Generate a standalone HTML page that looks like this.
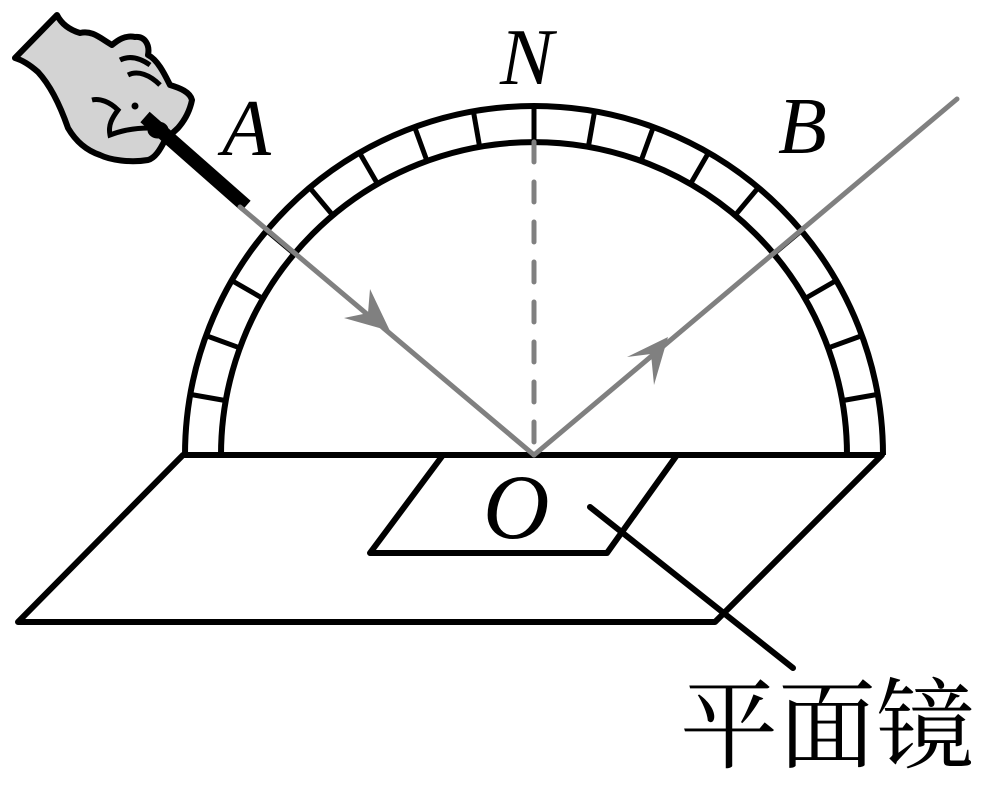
<!DOCTYPE html>
<html><head><meta charset="utf-8"><style>
html,body{margin:0;padding:0;background:#fff;}
svg{display:block;}
.it{font-family:"Liberation Serif","Times New Roman",serif;font-style:italic;}
.cj{font-family:"Liberation Serif","Noto Serif CJK SC","Noto Sans CJK SC",serif;}
</style></head><body>
<svg width="985" height="786" viewBox="0 0 985 786" xmlns="http://www.w3.org/2000/svg">
<!-- hand -->
<path d="M57,15 C62,25 70,30 80,33 C92,30 100,38 112,45 C118,40 125,35 135,37 C145,36 150,45 148,55 C158,60 165,75 170,85 C180,88 190,92 192,100 C190,110 185,120 178,128 L165,140 C160,150 155,158 148,160 C130,163 110,160 100,155 C85,150 75,140 68,128 C60,105 50,85 38,72 C30,65 22,60 15,58 Z" fill="#d3d3d3" stroke="#000" stroke-width="6" stroke-linejoin="round"/>
<path d="M92,100 C100,98 110,102 118,110 C112,118 108,125 110,135 C118,132 130,128 150,128" fill="none" stroke="#000" stroke-width="5"/>
<path d="M120,60 C130,55 140,58 150,65 M128,75 C138,70 150,75 160,85" fill="none" stroke="#000" stroke-width="5"/>
<circle cx="135" cy="106" r="3.5" fill="#000"/>
<ellipse cx="158" cy="130" rx="8" ry="6" fill="#d3d3d3" stroke="#000" stroke-width="5"/>
<!-- pen -->
<line x1="145" y1="117" x2="246" y2="206" stroke="#000" stroke-width="14"/>
<!-- semicircle -->
<path d="M185,455 A349,349 0 0 1 883,455" fill="none" stroke="#000" stroke-width="6"/>
<path d="M221,455 A313,313 0 0 1 847,455" fill="none" stroke="#000" stroke-width="6"/>
<g stroke="#000" stroke-width="5">
<line x1="534" y1="142" x2="534" y2="106" transform="rotate(-80 534 455)"/>
<line x1="534" y1="142" x2="534" y2="106" transform="rotate(-70 534 455)"/>
<line x1="534" y1="142" x2="534" y2="106" transform="rotate(-60 534 455)"/>
<line x1="534" y1="142" x2="534" y2="106" transform="rotate(-50 534 455)"/>
<line x1="534" y1="142" x2="534" y2="106" transform="rotate(-40 534 455)"/>
<line x1="534" y1="142" x2="534" y2="106" transform="rotate(-30 534 455)"/>
<line x1="534" y1="142" x2="534" y2="106" transform="rotate(-20 534 455)"/>
<line x1="534" y1="142" x2="534" y2="106" transform="rotate(-10 534 455)"/>
<line x1="534" y1="142" x2="534" y2="106"/>
<line x1="534" y1="142" x2="534" y2="106" transform="rotate(10 534 455)"/>
<line x1="534" y1="142" x2="534" y2="106" transform="rotate(20 534 455)"/>
<line x1="534" y1="142" x2="534" y2="106" transform="rotate(30 534 455)"/>
<line x1="534" y1="142" x2="534" y2="106" transform="rotate(40 534 455)"/>
<line x1="534" y1="142" x2="534" y2="106" transform="rotate(50 534 455)"/>
<line x1="534" y1="142" x2="534" y2="106" transform="rotate(60 534 455)"/>
<line x1="534" y1="142" x2="534" y2="106" transform="rotate(70 534 455)"/>
<line x1="534" y1="142" x2="534" y2="106" transform="rotate(80 534 455)"/>
</g>
<!-- base -->
<path d="M183,455 L882,455 L715,622 L18,622 Z" fill="none" stroke="#000" stroke-width="6" stroke-linejoin="round"/>
<path d="M443,455 L370,553 L607,553 L677,455" fill="none" stroke="#000" stroke-width="6" stroke-linejoin="round"/>
<line x1="590" y1="507" x2="793" y2="668" stroke="#000" stroke-width="6" stroke-linecap="round"/>
<!-- rays -->
<line x1="534" y1="142" x2="534" y2="452" stroke="#808080" stroke-width="5" stroke-dasharray="20,20" stroke-linecap="round"/>
<line x1="240" y1="207" x2="534" y2="455" stroke="#808080" stroke-width="5" stroke-linecap="round"/>
<line x1="534" y1="455" x2="957" y2="99" stroke="#808080" stroke-width="5" stroke-linecap="round"/>
<path d="M390,331 L344,318 L368,313 L370,289 Z" fill="#808080"/>
<path d="M668,337 L627,357 L651,354 L654,385 Z" fill="#808080"/>
<!-- labels -->
<g class="it" font-size="80" fill="#000">
<text x="500" y="84">N</text>
<text x="222" y="155">A</text>
<text x="778" y="153">B</text>
<text x="483" y="538" font-size="92">O</text>
</g>
<text class="cj" x="680" y="760" font-size="98" fill="#000">平面镜</text>
</svg>
</body></html>
